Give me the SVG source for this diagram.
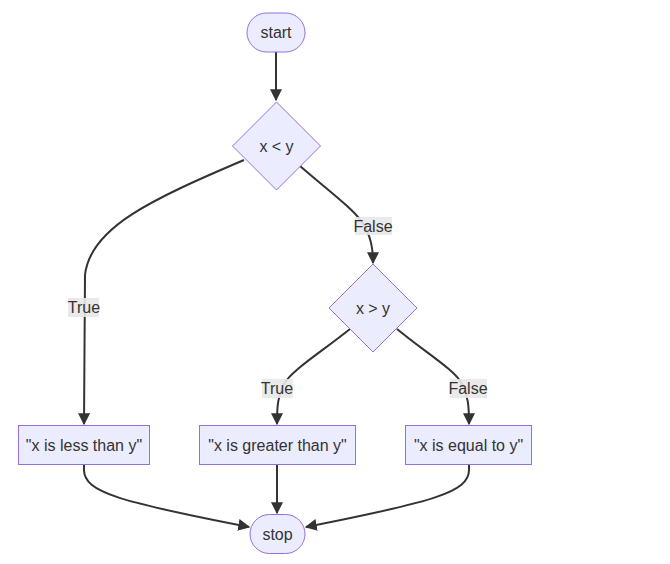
<svg xmlns="http://www.w3.org/2000/svg" width="670" height="564" viewBox="0 0 670 564">
<defs>
<style>
.node{fill:#ECECFF;stroke:#9370DB;stroke-width:1}
.lbl{font-family:"Liberation Sans",Arial,sans-serif;font-size:16px;fill:#333333;text-anchor:middle;dominant-baseline:central}
.edge{fill:none;stroke:#333333;stroke-width:2}
.ebg{fill:#e8e8e8;opacity:0.9}
</style>
<marker id="arrow" viewBox="0 0 10 10" refX="9" refY="5" markerUnits="userSpaceOnUse" markerWidth="12" markerHeight="12" orient="auto">
<path d="M0,0 L10,5 L0,10 z" fill="#333333"/>
</marker>
</defs>
<rect width="670" height="564" fill="#ffffff"/>
<g id="edges">
<path class="edge" d="M276,52 L276,100" marker-end="url(#arrow)"/>
<path class="edge" d="M244,160 C150,200 90,228 85,275 L84,424" marker-end="url(#arrow)"/>
<path class="edge" d="M300,166 C330,192 352,208 362,222 C371,236 373,248 373,263" marker-end="url(#arrow)"/>
<path class="edge" d="M350,329 C320,353 292,370 284,384 C278,396 277,405 277,424" marker-end="url(#arrow)"/>
<path class="edge" d="M397,329 C426,353 455,370 462,384 C468,396 469,405 469,424" marker-end="url(#arrow)"/>
<path class="edge" d="M84,465 L84,470 C84,492 120,502 249,527" marker-end="url(#arrow)"/>
<path class="edge" d="M277,465 L277,513" marker-end="url(#arrow)"/>
<path class="edge" d="M469,465 L469,470 C469,492 433,502 306,527" marker-end="url(#arrow)"/>
<rect class="ebg" x="68" y="298" width="31" height="19"/>
<text class="lbl" x="84" y="307.5">True</text>
<rect class="ebg" x="355" y="217" width="37" height="18"/>
<text class="lbl" x="373" y="226">False</text>
<rect class="ebg" x="262" y="379" width="31" height="19"/>
<text class="lbl" x="277" y="388.5">True</text>
<rect class="ebg" x="450" y="379" width="37" height="19"/>
<text class="lbl" x="468" y="388.5">False</text>
</g>
<g id="start">
<rect class="node" x="247" y="13" width="58" height="39" rx="19.5" ry="19.5"/>
<text class="lbl" x="276" y="32.5">start</text>
</g>
<g id="cond1">
<polygon class="node" points="276.5,102 320.5,146 276.5,190 232.5,146"/>
<text class="lbl" x="276.5" y="146">x &lt; y</text>
</g>
<g id="cond2">
<polygon class="node" points="373,264 417,308 373,352 329,308"/>
<text class="lbl" x="373" y="308">x &gt; y</text>
</g>
<g id="less">
<rect class="node" x="18.5" y="425.5" width="131" height="39"/>
<text class="lbl" x="84" y="445">"x is less than y"</text>
</g>
<g id="greater">
<rect class="node" x="199.5" y="425.5" width="156" height="39"/>
<text class="lbl" x="277.5" y="445">"x is greater than y"</text>
</g>
<g id="equal">
<rect class="node" x="405.5" y="425.5" width="126" height="39"/>
<text class="lbl" x="468.5" y="445">"x is equal to y"</text>
</g>
<g id="stop">
<rect class="node" x="250" y="514.5" width="55" height="39" rx="19.5" ry="19.5"/>
<text class="lbl" x="277.5" y="534">stop</text>
</g>
</svg>
